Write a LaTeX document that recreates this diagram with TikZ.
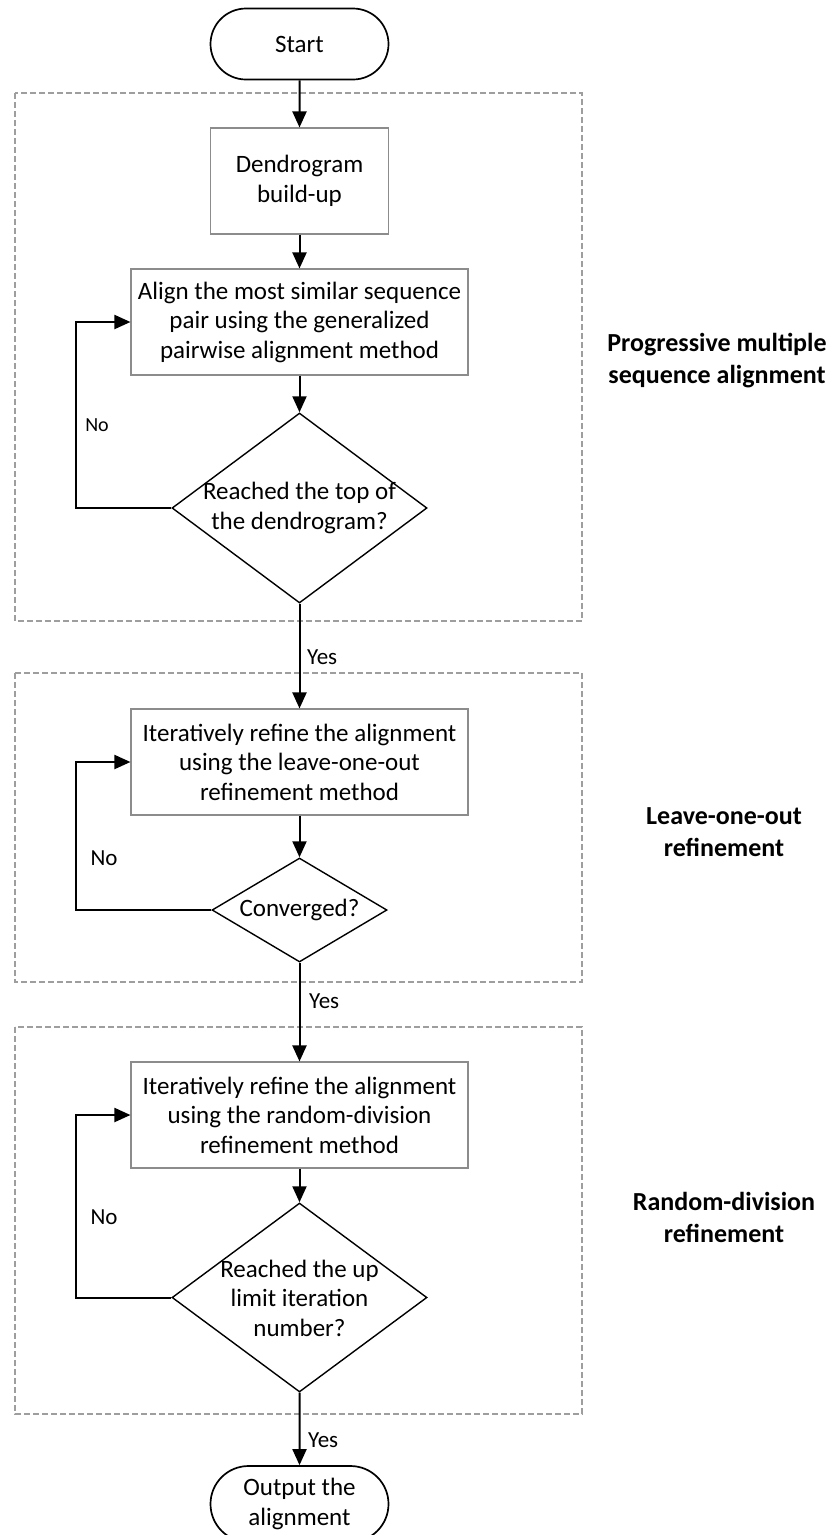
\documentclass[tikz,border=0pt]{standalone}
\usepackage{fontspec}
\setmainfont{Carlito}
\usetikzlibrary{shapes.geometric,shapes.misc,arrows.meta}

\begin{document}
\begin{tikzpicture}[x=1pt,y=-1pt,
  base/.style={font=\fontsize{25}{29.5}\selectfont, align=center, inner sep=0pt},
  terminal/.style={base, rounded rectangle, draw=black, line width=1.7pt,
    minimum width=178pt, minimum height=71pt, fill=white},
  process/.style={base, rectangle, draw=black!45, line width=1.1pt,
    minimum height=106pt, fill=white},
  decision/.style={diamond, draw=black, line width=1.4pt, inner sep=0pt, fill=white},
  flow/.style={-{Triangle[length=16pt,width=14pt]}, line width=2pt},
  groupbox/.style={draw=black!38, line width=2.8pt, dash pattern=on 6pt off 3pt},
  tag/.style={font=\fontsize{23}{27}\selectfont, inner sep=0pt},
  phase/.style={font=\fontsize{26}{32}\selectfont\bfseries, align=center, inner sep=0pt}
]
\clip (0,0) rectangle (833,1535);
\fill[white] (0,0) rectangle (833,1535);

% phase frames
\draw[groupbox] (15,93) rectangle (582,621);
\draw[groupbox] (15,673) rectangle (582,982);
\draw[groupbox] (15,1027) rectangle (582,1414);

% phase titles
\node[phase] (p1) at (717,361) {Progressive multiple\\sequence alignment};
\node[phase] (p2) at (724,832) {Leave-one-out\\refinement};
\node[phase] (p3) at (724,1217) {Random-division\\refinement};

% flow nodes
\node[terminal] (start) at (299.5,44) {Start};
\node[process, minimum width=178pt] (dendro) at (299.5,181) {Dendrogram\\build-up};
\node[process, minimum width=337pt] (align) at (299.5,322)
  {Align the most similar sequence\\pair using the generalized\\pairwise alignment method};
\node[decision, minimum width=255pt, minimum height=190pt] (d1) at (299.5,508) {};
\node[base] (d1t) at (299.5,508) {Reached the top of\\the dendrogram?};

\node[process, minimum width=337pt] (loo) at (299.5,762)
  {Iteratively refine the alignment\\using the leave-one-out\\refinement method};
\node[decision, minimum width=175pt, minimum height=104pt] (d2) at (299.5,910) {};
\node[base] (d2t) at (299.5,910) {Converged?};

\node[process, minimum width=337pt] (rnd) at (299.5,1115)
  {Iteratively refine the alignment\\using the random-division\\refinement method};
\node[decision, minimum width=255pt, minimum height=189pt] (d3) at (299.5,1297.5) {};
\node[base] (d3t) at (299.5,1298) {Reached the up\\limit iteration\\number?};

\node[terminal, minimum height=76pt] (out) at (299.5,1504) {Output the\\alignment};

% connectors
\draw[flow] (start) -- (dendro);
\draw[flow] (dendro) -- (align);
\draw[flow] (align) -- (d1);
\draw[flow] (d1) -- (loo);
\draw[flow] (loo) -- (d2);
\draw[flow] (d2) -- (rnd);
\draw[flow] (rnd) -- (d3);
\draw[flow] (d3) -- (out);

\draw[flow] (d1.west) -- ++(-95,0) |- (align.west);
\draw[flow] (d2.west) -- ++(-135,0) |- (loo.west);
\draw[flow] (d3.west) -- ++(-95,0) |- (rnd.west);

% branch labels
\node[tag, font=\fontsize{20}{24}\selectfont] (no1) at (97,425) {No};
\node[tag] (no2) at (104,858) {No};
\node[tag] (no3) at (104,1217) {No};
\node[tag, anchor=west] (yes1) at (307,657) {Yes};
\node[tag, anchor=west] (yes2) at (309,1001) {Yes};
\node[tag, anchor=west] (yes3) at (308,1440) {Yes};
\end{tikzpicture}
\end{document}
